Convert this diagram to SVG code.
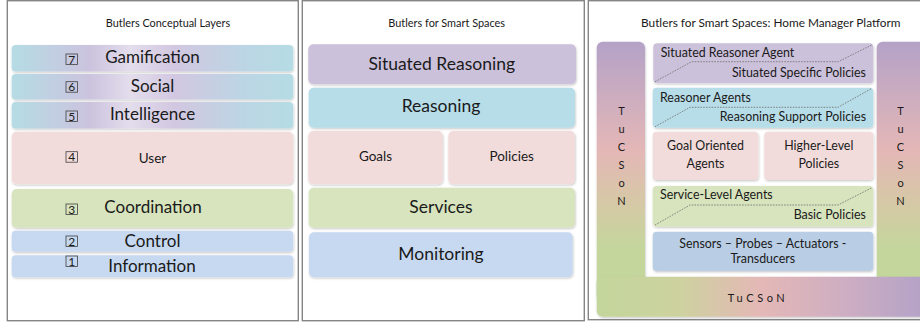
<svg xmlns="http://www.w3.org/2000/svg" width="920" height="322" viewBox="0 0 920 322">
  <defs>
    <filter id="shadow" x="-5%" y="-20%" width="110%" height="150%">
      <feDropShadow dx="0.6" dy="1.2" stdDeviation="0.8" flood-color="#000" flood-opacity="0.22"/>
    </filter>
    <linearGradient id="layerTop" x1="0" y1="0" x2="1" y2="0">
      <stop offset="0" stop-color="#b5dce5"/>
      <stop offset="0.28" stop-color="#ccc3de"/>
      <stop offset="0.42" stop-color="#e3ddec"/>
      <stop offset="0.58" stop-color="#d2c7e1"/>
      <stop offset="0.82" stop-color="#bcd5e4"/>
      <stop offset="1" stop-color="#b5dce5"/>
    </linearGradient>
    <linearGradient id="colGrad" x1="0" y1="41.7" x2="0" y2="300" gradientUnits="userSpaceOnUse">
      <stop offset="0" stop-color="#b4a2c7"/>
      <stop offset="0.42" stop-color="#e4b7b7"/>
      <stop offset="0.62" stop-color="#d6c8a6"/>
      <stop offset="0.8" stop-color="#c4d69c"/>
      <stop offset="1" stop-color="#c3d69b"/>
    </linearGradient>
    <linearGradient id="barGrad" x1="596" y1="0" x2="926" y2="0" gradientUnits="userSpaceOnUse">
      <stop offset="0" stop-color="#c3d69b"/>
      <stop offset="0.25" stop-color="#cdd29f"/>
      <stop offset="0.5" stop-color="#e4b8b6"/>
      <stop offset="0.75" stop-color="#ceaec2"/>
      <stop offset="1" stop-color="#b3a2c7"/>
    </linearGradient>
    <style>
      .panel { fill: #ffffff; stroke: #858585; stroke-width: 1.4; }
      .box { filter: url(#shadow); }
      .t { font-family: Lato, "Liberation Sans", sans-serif; fill: #1a1a1a; }
      .title { font-size: 10.9px; text-anchor: middle; }
      .big { font-size: 17px; text-anchor: middle; }
      .mid { font-size: 13.5px; text-anchor: middle; }
      .sm { font-size: 12.4px; }
      .num { font-size: 12px; text-anchor: middle; }
      .numbox { fill: none; stroke: #404040; stroke-width: 0.8; }
      .split { fill: none; stroke: #6f6f6f; stroke-width: 0.8; stroke-dasharray: 1.6 1.2; }
      .tv { font-size: 11px; text-anchor: middle; }
      .purple { fill: #ccc1da; }
      .teal { fill: #b7dde8; }
      .pink { fill: #f2dcdb; }
      .green { fill: #d7e4bd; }
      .blue { fill: #c6d9f1; }
    </style>
  </defs>

  <rect width="920" height="322" fill="#ffffff"/>

  <!-- Panel 1: conceptual layers -->
  <g id="panel-layers">
    <rect class="panel" x="7.3" y="0.7" width="291" height="320"/>
    <text class="t title" x="168" y="26.7">Butlers Conceptual Layers</text>

    <g id="layer-gamification">
      <rect class="box" x="11.7" y="45" width="281.5" height="26.5" rx="4" fill="url(#layerTop)"/>
      <rect class="numbox" x="66" y="54" width="11.4" height="10.5"/>
      <text class="t num" x="71.7" y="63.6">7</text>
      <text class="t big" x="152.5" y="63.3">Gamification</text>
    </g>
    <g id="layer-social">
      <rect class="box" x="11.7" y="74" width="281.5" height="25.5" rx="4" fill="url(#layerTop)"/>
      <rect class="numbox" x="66" y="81.7" width="11.4" height="10.5"/>
      <text class="t num" x="71.7" y="91.3">6</text>
      <text class="t big" x="152.5" y="91.7">Social</text>
    </g>
    <g id="layer-intelligence">
      <rect class="box" x="11.7" y="102" width="281.5" height="26.5" rx="4" fill="url(#layerTop)"/>
      <rect class="numbox" x="66" y="111" width="11.4" height="10.5"/>
      <text class="t num" x="71.7" y="120.6">5</text>
      <text class="t big" x="152.5" y="120">Intelligence</text>
    </g>
    <g id="layer-user">
      <rect class="box pink" x="11.7" y="131.7" width="281.5" height="52.5" rx="5"/>
      <rect class="numbox" x="66" y="151.7" width="11.4" height="10.5"/>
      <text class="t num" x="71.7" y="161.3">4</text>
      <text class="t mid" x="152.5" y="163">User</text>
    </g>
    <g id="layer-coordination">
      <rect class="box green" x="11.7" y="189" width="281.5" height="38.7" rx="5"/>
      <rect class="numbox" x="66" y="204" width="11.4" height="10.5"/>
      <text class="t num" x="71.7" y="213.6">3</text>
      <text class="t big" x="153" y="213.3">Coordination</text>
    </g>
    <g id="layer-control">
      <rect class="box blue" x="11.7" y="230.7" width="281.5" height="21" rx="4"/>
      <rect class="numbox" x="66" y="236" width="11.4" height="10.5"/>
      <text class="t num" x="71.7" y="245.6">2</text>
      <text class="t big" x="152.5" y="247.3">Control</text>
    </g>
    <g id="layer-information">
      <rect class="box blue" x="11.7" y="255.3" width="281.5" height="22" rx="4"/>
      <rect class="numbox" x="66" y="256" width="11.4" height="10.5"/>
      <text class="t num" x="71.7" y="265.6">1</text>
      <text class="t big" x="152" y="272.3">Information</text>
    </g>
  </g>

  <!-- Panel 2: butlers for smart spaces -->
  <g id="panel-smart-spaces">
    <rect class="panel" x="302.3" y="0.7" width="282" height="320"/>
    <text class="t title" x="446.7" y="26.7">Butlers for Smart Spaces</text>

    <g id="situated-reasoning">
      <rect class="box purple" x="308.3" y="44.3" width="267.7" height="40" rx="5"/>
      <text class="t big" x="441.7" y="70" style="font-size:17.5px">Situated Reasoning</text>
    </g>
    <g id="reasoning">
      <rect class="box teal" x="308.7" y="87.7" width="266.3" height="40" rx="5"/>
      <text class="t big" x="441" y="111.5" style="font-size:17.5px">Reasoning</text>
    </g>
    <g id="goals">
      <rect class="box pink" x="308.3" y="131" width="134.4" height="53.3" rx="5"/>
      <text class="t mid" x="375.5" y="161">Goals</text>
    </g>
    <g id="policies">
      <rect class="box pink" x="448.3" y="131" width="126.7" height="53.3" rx="5"/>
      <text class="t mid" x="511.7" y="161">Policies</text>
    </g>
    <g id="services">
      <rect class="box green" x="308.7" y="187.7" width="266.3" height="40" rx="5"/>
      <text class="t big" x="441" y="213" style="font-size:17.5px">Services</text>
    </g>
    <g id="monitoring">
      <rect class="box blue" x="309" y="232.3" width="263.7" height="45" rx="5"/>
      <text class="t big" x="441" y="260" style="font-size:17.5px">Monitoring</text>
    </g>
  </g>

  <!-- Panel 3: home manager platform -->
  <g id="panel-home-manager">
    <rect class="panel" x="588.3" y="0.7" width="340" height="319"/>
    <text class="t title" x="770.8" y="26.7" style="font-size:11.8px">Butlers for Smart Spaces: Home Manager Platform</text>

    <g id="tucson">
      <rect class="box" x="596.7" y="41.7" width="48.3" height="260" rx="6" fill="url(#colGrad)"/>
      <rect class="box" x="876.7" y="41.7" width="52" height="260" rx="6" fill="url(#colGrad)"/>
      <rect class="box" x="596.7" y="276.7" width="332" height="40" rx="6" fill="url(#barGrad)"/>
      <g class="t tv">
        <text x="621.5" y="115">T</text>
        <text x="621.5" y="133">u</text>
        <text x="621.5" y="151">C</text>
        <text x="621.5" y="169">S</text>
        <text x="621.5" y="187">o</text>
        <text x="621.5" y="205">N</text>
        <text x="900.5" y="115">T</text>
        <text x="900.5" y="133">u</text>
        <text x="900.5" y="151">C</text>
        <text x="900.5" y="169">S</text>
        <text x="900.5" y="187">o</text>
        <text x="900.5" y="205">N</text>
      </g>
      <text class="t tv" x="758" y="301.7" letter-spacing="3.6">TuCSoN</text>
    </g>

    <g id="situated-reasoner-agent">
      <rect class="box purple" x="653.3" y="43.3" width="220" height="40" rx="4"/>
      <path class="split" d="M655 81.7 L691.7 61.7 L838.3 61.7 L871.7 45"/>
      <text class="t sm" x="660.7" y="57.3">Situated Reasoner Agent</text>
      <text class="t sm" x="866" y="76.7" text-anchor="end">Situated Specific Policies</text>
    </g>
    <g id="reasoner-agents">
      <rect class="box teal" x="652.7" y="87.7" width="220.6" height="40" rx="4"/>
      <path class="split" d="M655 126.7 L690 107.3 L838 107.3 L872 88.3"/>
      <text class="t sm" x="660" y="101.7">Reasoner Agents</text>
      <text class="t sm" x="866" y="121" text-anchor="end">Reasoning Support Policies</text>
    </g>
    <g id="goal-oriented-agents">
      <rect class="box pink" x="652.7" y="131.7" width="105.6" height="48.3" rx="4"/>
      <text class="t sm" x="705.5" y="150" text-anchor="middle">Goal Oriented</text>
      <text class="t sm" x="705.5" y="168" text-anchor="middle">Agents</text>
    </g>
    <g id="higher-level-policies">
      <rect class="box pink" x="764.3" y="131.7" width="109" height="48.3" rx="4"/>
      <text class="t sm" x="818.8" y="150" text-anchor="middle">Higher-Level</text>
      <text class="t sm" x="818.8" y="168" text-anchor="middle">Policies</text>
    </g>
    <g id="service-level-agents">
      <rect class="box green" x="652.7" y="186" width="220.6" height="40.7" rx="4"/>
      <path class="split" d="M655 225 L690 205 L838 205 L872 187.7"/>
      <text class="t sm" x="660" y="199.3">Service-Level Agents</text>
      <text class="t sm" x="866" y="219.3" text-anchor="end">Basic Policies</text>
    </g>
    <g id="sensors">
      <rect class="box" x="652.7" y="231.7" width="220.6" height="39.3" rx="4" fill="#b9cde5"/>
      <text class="t sm" x="762.8" y="248.3" text-anchor="middle">Sensors – Probes – Actuators -</text>
      <text class="t sm" x="762.8" y="262.5" text-anchor="middle">Transducers</text>
    </g>
  </g>
</svg>
